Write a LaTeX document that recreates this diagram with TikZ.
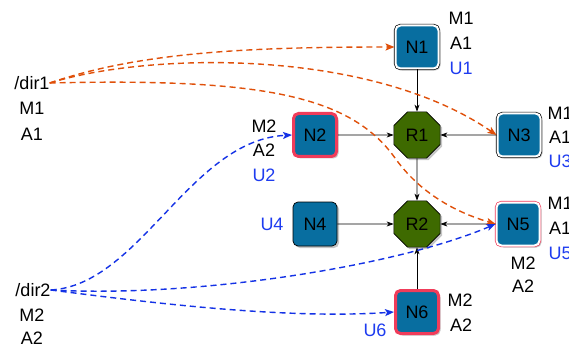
\documentclass[tikz,border=0pt]{standalone}
\usepackage{fontspec}
\setmainfont{Liberation Sans}
\usetikzlibrary{shapes.geometric,shadows,arrows.meta}
\definecolor{nblue}{RGB}{8,110,160}
\definecolor{rgreen}{RGB}{62,106,0}
\definecolor{bred}{RGB}{240,60,90}
\definecolor{eorange}{RGB}{224,80,10}
\definecolor{eblue}{RGB}{20,50,230}
\definecolor{tblue}{RGB}{30,60,240}
\tikzset{
  base/.style={font=\fontsize{18}{20}\selectfont, text height=12.9pt, text depth=0pt},
  box/.style={base, rectangle, rounded corners=5pt, minimum size=43pt, inner sep=0pt, fill=nblue,
    drop shadow={shadow xshift=2pt, shadow yshift=-2pt, opacity=0.45}},
  wbox/.style={box, draw=white, line width=2pt, preaction={draw=black, line width=3.4pt}},
  pbox/.style={box, draw=white, line width=2pt, preaction={draw=bred, line width=3.4pt}},
  rbox/.style={box, draw=bred, line width=3pt},
  nbox/.style={box, draw=black, line width=0.7pt, minimum size=44pt},
  oct/.style={base, regular polygon, regular polygon sides=8, minimum size=50pt, inner sep=0pt,
    fill=rgreen, draw=black, line width=0.6pt,
    drop shadow={shadow xshift=2pt, shadow yshift=-2pt, opacity=0.45}},
  lab/.style={base, inner sep=0pt},
  blab/.style={lab, text=tblue},
  arr/.style={-{Stealth[length=7pt,width=5pt]}, line width=0.6pt, draw=black},
  dsh/.style={line width=1.4pt, dash pattern=on 6pt off 4pt, -{Stealth[length=9pt,width=7pt,inset=2pt]}},
}
\begin{document}
\begin{tikzpicture}[x=1pt,y=-1pt]
\path[use as bounding box, fill=white] (0,0) rectangle (569,347);

% main nodes
\node[wbox] (N1) at (417,47) {N1};
\node[rbox] (N2) at (315,135) {N2};
\node[oct]  (R1) at (417,135) {R1};
\node[wbox] (N3) at (519,135) {N3};
\node[nbox] (N4) at (315,224) {N4};
\node[oct]  (R2) at (417,224) {R2};
\node[pbox] (N5) at (518,224) {N5};
\node[rbox] (N6) at (417,312) {N6};

% labels
\node[lab]  (n1m) at (461,18) {M1};
\node[lab]  (n1a) at (461,43) {A1};
\node[blab] (n1u) at (461,68) {U1};
\node[lab]  (n2m) at (264,126) {M2};
\node[lab]  (n2a) at (264,150) {A2};
\node[blab] (n2u) at (264,175) {U2};
\node[lab]  (n3m) at (560,113) {M1};
\node[lab]  (n3a) at (560,137) {A1};
\node[blab] (n3u) at (560,161) {U3};
\node[blab] (n4u) at (272,224) {U4};
\node[lab]  (n5m) at (560,203) {M1};
\node[lab]  (n5a) at (560,228) {A1};
\node[blab] (n5u) at (560,253) {U5};
\node[lab]  (n5m2) at (523,263) {M2};
\node[lab]  (n5a2) at (523,286) {A2};
\node[lab]  (n6m) at (460,300) {M2};
\node[lab]  (n6a) at (461,325) {A2};
\node[blab] (n6u) at (375,330) {U6};

\node[lab] (d1)  at (32,83) {/dir1};
\node[lab] (d1m) at (32,108) {M1};
\node[lab] (d1a) at (32,134) {A1};
\node[lab] (d2)  at (33,290) {/dir2};
\node[lab] (d2m) at (32,315) {M2};
\node[lab] (d2a) at (32,338) {A2};

% solid edges
\draw[arr] (N1) -- (R1);
\draw[arr] (N2) -- (R1);
\draw[arr] (N3) -- (R1);
\draw[arr] (R1) -- (R2);
\draw[arr] (N4) -- (R2);
\draw[arr] (N5) -- (R2);
\draw[arr] (N6) -- (R2);

% dashed edges
\coordinate (k1) at (395,158);
\draw[dsh, eorange] (d1.east) .. controls (140,52) and (250,47) .. (N1.west);
\draw[dsh, eorange] (d1.east) .. controls (150,52) and (370,48) .. (N3.west);
\draw[dsh, eorange] (d1.east) .. controls (260,78) and (350,95) .. (k1)
                              .. controls (420,193) and (455,212) .. (N5.west);
\draw[dsh, eblue] (d2.east) .. controls (140,285) and (190,140) .. (N2.west);
\draw[dsh, eblue] (d2.east) .. controls (200,298) and (400,265) .. (N5.west);
\draw[dsh, eblue] (d2.east) .. controls (130,300) and (280,320) .. (N6.west);
\end{tikzpicture}
\end{document}
